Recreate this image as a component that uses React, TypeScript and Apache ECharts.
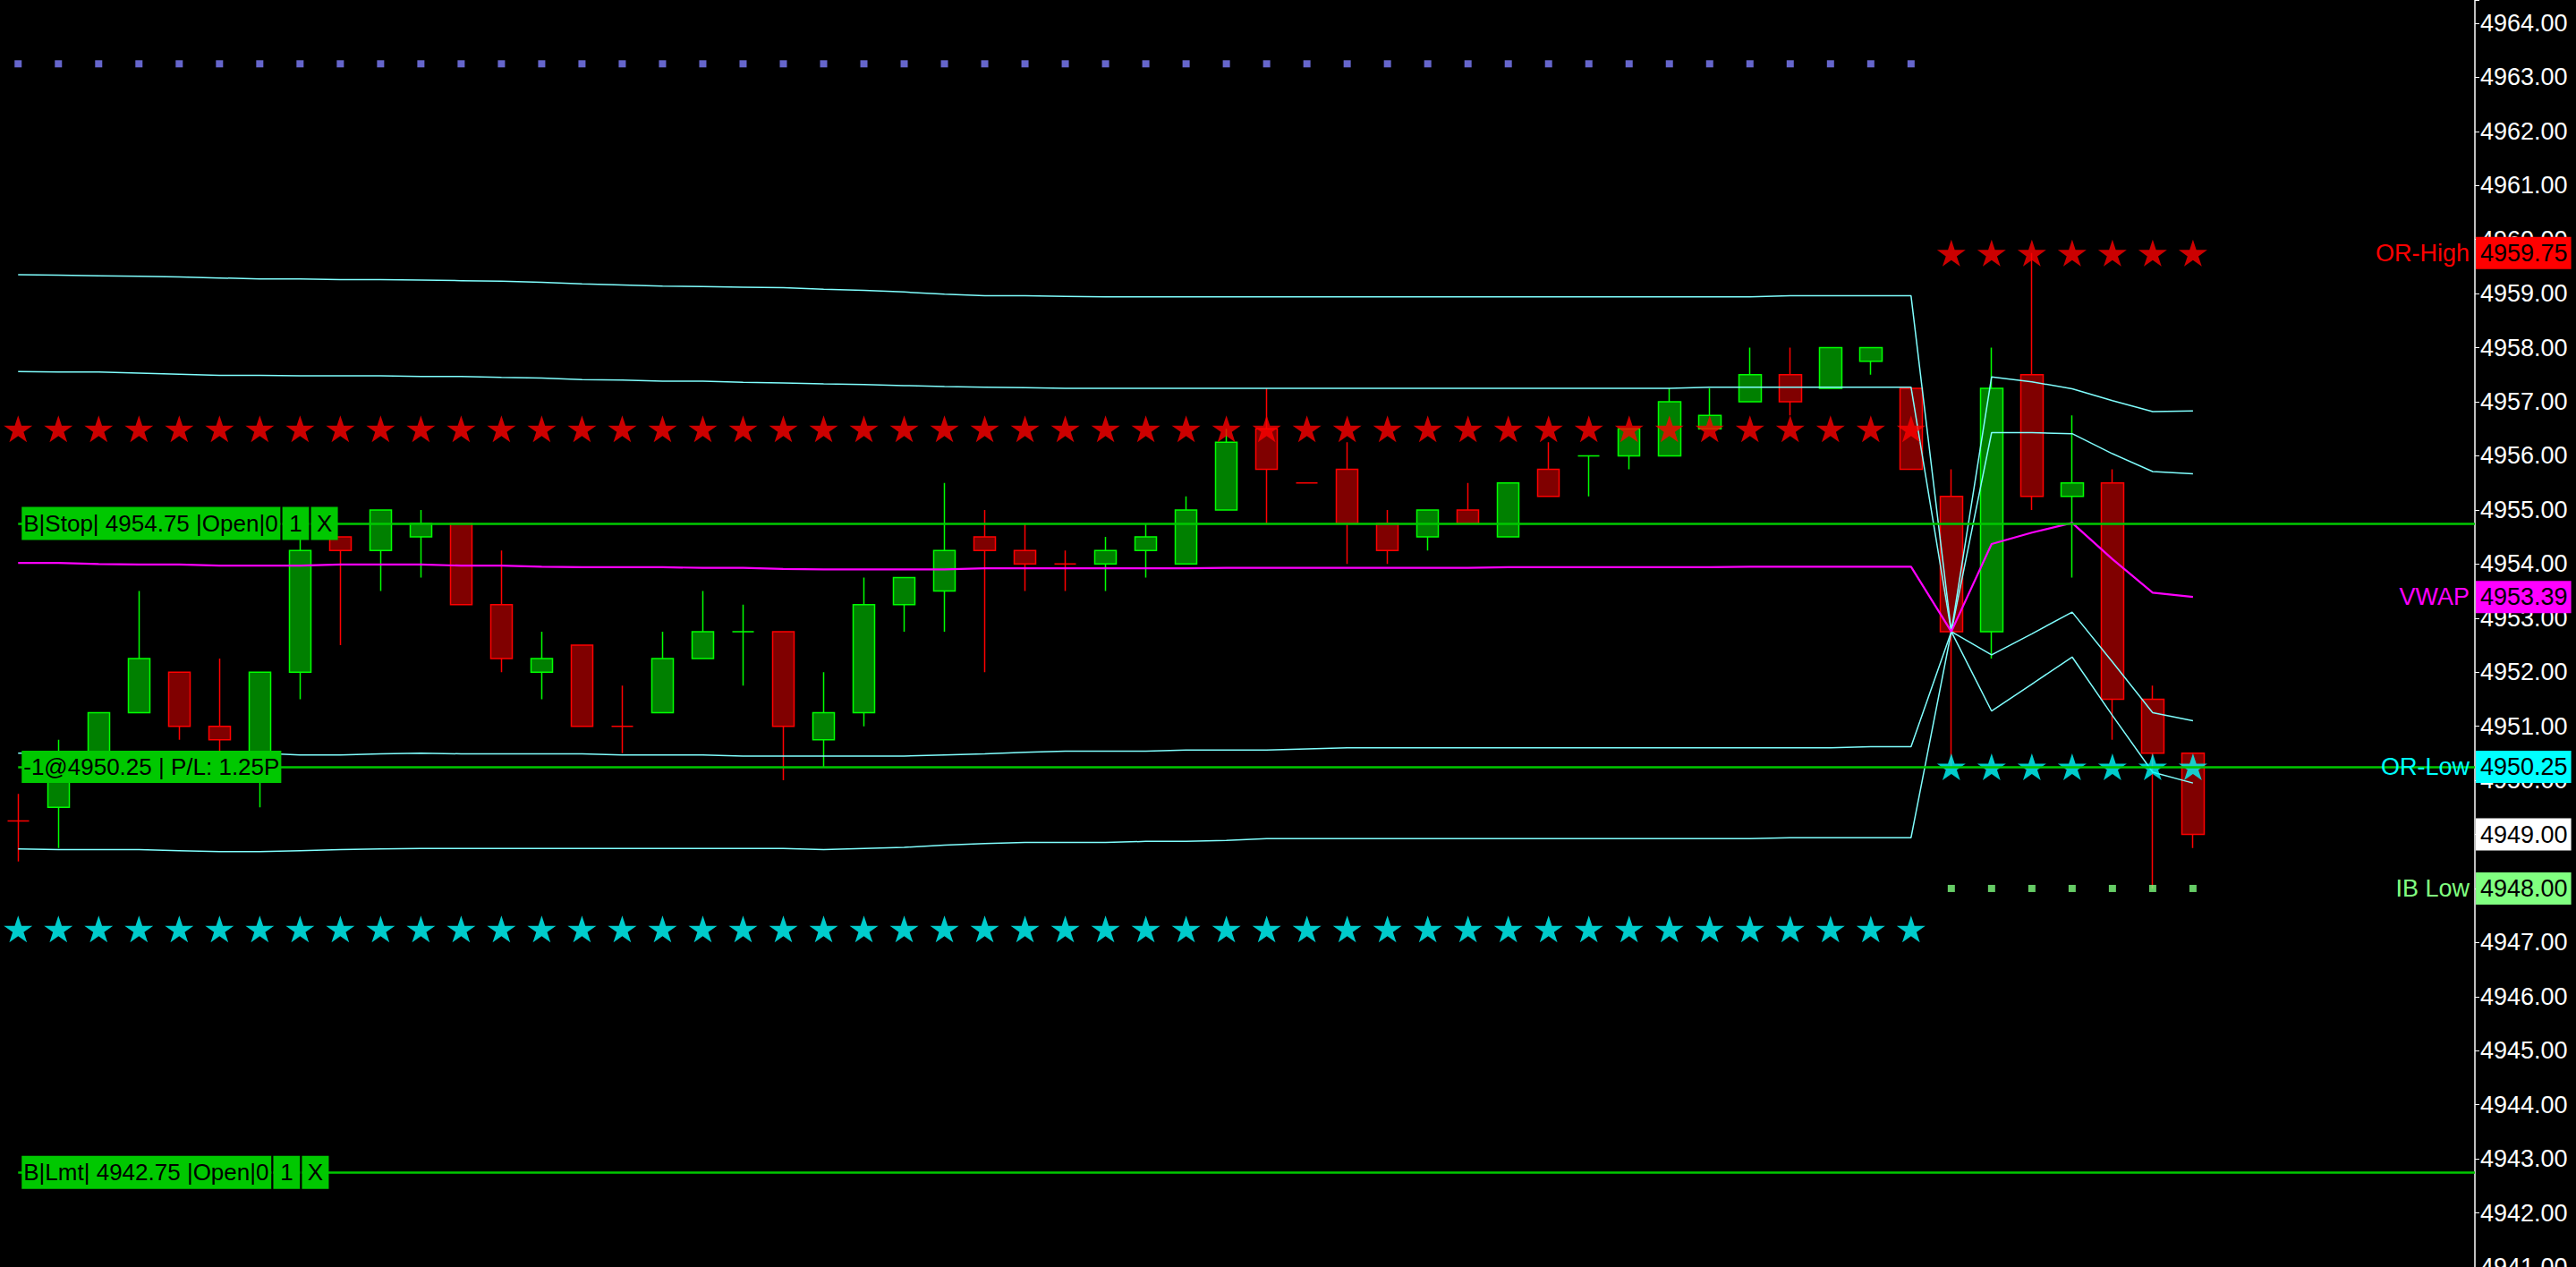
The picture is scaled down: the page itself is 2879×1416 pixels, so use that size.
import * as echarts from "echarts";
import React, { useEffect, useRef } from "react";

// velas: [abertura, fechamento, minima, maxima], uma por barra
const candles: number[][] = [
    [4949.25, 4949.25, 4948.5, 4949.75],
    [4949.5, 4950.5, 4948.75, 4950.75],
    [4950.5, 4951.25, 4950.25, 4951.25],
    [4951.25, 4952.25, 4951.25, 4953.5],
    [4952.0, 4951.0, 4950.75, 4952.0],
    [4951.0, 4950.75, 4950.5, 4952.25],
    [4950.5, 4952.0, 4949.5, 4952.0],
    [4952.0, 4954.25, 4951.5, 4954.5],
    [4954.5, 4954.25, 4952.5, 4954.5],
    [4954.25, 4955.0, 4953.5, 4955.0],
    [4954.5, 4954.75, 4953.75, 4955.0],
    [4954.75, 4953.25, 4953.25, 4954.75],
    [4953.25, 4952.25, 4952.0, 4954.25],
    [4952.0, 4952.25, 4951.5, 4952.75],
    [4952.5, 4951.0, 4951.0, 4952.5],
    [4951.0, 4951.0, 4950.5, 4951.75],
    [4951.25, 4952.25, 4951.25, 4952.75],
    [4952.25, 4952.75, 4952.25, 4953.5],
    [4952.75, 4952.75, 4951.75, 4953.25],
    [4952.75, 4951.0, 4950.0, 4952.75],
    [4950.75, 4951.25, 4950.25, 4952.0],
    [4951.25, 4953.25, 4951.0, 4953.75],
    [4953.25, 4953.75, 4952.75, 4953.75],
    [4953.5, 4954.25, 4952.75, 4955.5],
    [4954.5, 4954.25, 4952.0, 4955.0],
    [4954.25, 4954.0, 4953.5, 4954.75],
    [4954.0, 4954.0, 4953.5, 4954.25],
    [4954.0, 4954.25, 4953.5, 4954.5],
    [4954.25, 4954.5, 4953.75, 4954.75],
    [4954.0, 4955.0, 4954.0, 4955.25],
    [4955.0, 4956.25, 4955.0, 4956.5],
    [4956.5, 4955.75, 4954.75, 4957.25],
    [4955.5, 4955.5, 4955.5, 4955.5],
    [4955.75, 4954.75, 4954.0, 4956.25],
    [4954.75, 4954.25, 4954.0, 4955.0],
    [4954.5, 4955.0, 4954.25, 4955.0],
    [4955.0, 4954.75, 4954.75, 4955.5],
    [4954.5, 4955.5, 4954.5, 4955.5],
    [4955.75, 4955.25, 4955.25, 4956.25],
    [4956.0, 4956.0, 4955.25, 4956.0],
    [4956.0, 4956.5, 4955.75, 4956.5],
    [4956.0, 4957.0, 4956.0, 4957.25],
    [4956.5, 4956.75, 4956.5, 4957.25],
    [4957.0, 4957.5, 4957.0, 4958.0],
    [4957.5, 4957.0, 4956.75, 4958.0],
    [4957.25, 4958.0, 4957.25, 4958.0],
    [4957.75, 4958.0, 4957.5, 4958.0],
    [4957.25, 4955.75, 4955.75, 4957.25],
    [4955.25, 4952.75, 4950.25, 4955.75],
    [4952.75, 4957.25, 4952.25, 4958.0],
    [4957.5, 4955.25, 4955.0, 4959.75],
    [4955.25, 4955.5, 4953.75, 4956.75],
    [4955.5, 4951.5, 4950.75, 4955.75],
    [4951.5, 4950.5, 4948.0, 4951.75],
    [4950.5, 4949.0, 4948.75, 4950.5],
];

// dojis que a plataforma pinta de vermelho
const redDoji = [0, 15, 26, 32];

// VWAP e bandas, um valor por barra
const vwap = [
    4954.02, 4954.02, 4954.0, 4953.99, 4953.99, 4953.97, 4953.97, 4953.97, 4953.99, 4953.99,
    4953.99, 4953.97, 4953.97, 4953.95, 4953.94, 4953.94, 4953.94, 4953.93, 4953.93, 4953.91,
    4953.9, 4953.9, 4953.9, 4953.9, 4953.92, 4953.92, 4953.92, 4953.92, 4953.92, 4953.92,
    4953.93, 4953.93, 4953.93, 4953.93, 4953.93, 4953.93, 4953.93, 4953.94, 4953.94, 4953.94,
    4953.94, 4953.94, 4953.94, 4953.95, 4953.95, 4953.95, 4953.95, 4953.95, 4952.75, 4954.37,
    4954.58, 4954.76, 4954.09, 4953.47, 4953.39,
];

const upper2 = [
    4959.35, 4959.34, 4959.33, 4959.32, 4959.31, 4959.29, 4959.27, 4959.27, 4959.26, 4959.26,
    4959.25, 4959.24, 4959.23, 4959.21, 4959.18, 4959.16, 4959.14, 4959.13, 4959.12, 4959.11,
    4959.08, 4959.06, 4959.03, 4958.99, 4958.96, 4958.96, 4958.95, 4958.94, 4958.94, 4958.94,
    4958.94, 4958.94, 4958.94, 4958.94, 4958.94, 4958.94, 4958.94, 4958.94, 4958.94, 4958.94,
    4958.94, 4958.94, 4958.94, 4958.94, 4958.96, 4958.96, 4958.96, 4958.96, 4952.75, 4957.46,
    4957.37, 4957.24, 4957.02, 4956.82, 4956.83,
];

const upper1 = [
    4957.56, 4957.55, 4957.55, 4957.53, 4957.51, 4957.49, 4957.49, 4957.48, 4957.48, 4957.48,
    4957.47, 4957.47, 4957.45, 4957.44, 4957.41, 4957.4, 4957.38, 4957.38, 4957.36, 4957.35,
    4957.33, 4957.32, 4957.3, 4957.28, 4957.27, 4957.26, 4957.25, 4957.25, 4957.25, 4957.25,
    4957.25, 4957.25, 4957.25, 4957.25, 4957.25, 4957.25, 4957.25, 4957.25, 4957.25, 4957.25,
    4957.25, 4957.25, 4957.27, 4957.27, 4957.27, 4957.27, 4957.27, 4957.27, 4952.75, 4956.43,
    4956.43, 4956.41, 4956.04, 4955.71, 4955.67,
];

const lower1 = [
    4950.5, 4950.5, 4950.5, 4950.5, 4950.5, 4950.5, 4950.5, 4950.47, 4950.47, 4950.49,
    4950.5, 4950.49, 4950.49, 4950.49, 4950.49, 4950.47, 4950.47, 4950.47, 4950.45, 4950.45,
    4950.45, 4950.45, 4950.45, 4950.47, 4950.49, 4950.52, 4950.54, 4950.54, 4950.54, 4950.56,
    4950.56, 4950.56, 4950.58, 4950.6, 4950.6, 4950.6, 4950.6, 4950.6, 4950.6, 4950.6,
    4950.6, 4950.6, 4950.6, 4950.6, 4950.6, 4950.6, 4950.62, 4950.62, 4952.75, 4952.32,
    4952.71, 4953.11, 4952.19, 4951.25, 4951.1,
];

const lower2 = [
    4948.73, 4948.72, 4948.72, 4948.72, 4948.7, 4948.68, 4948.68, 4948.7, 4948.72, 4948.73,
    4948.74, 4948.74, 4948.74, 4948.74, 4948.74, 4948.74, 4948.74, 4948.74, 4948.74, 4948.74,
    4948.72, 4948.74, 4948.76, 4948.8, 4948.83, 4948.85, 4948.85, 4948.85, 4948.87, 4948.87,
    4948.89, 4948.92, 4948.92, 4948.92, 4948.92, 4948.92, 4948.92, 4948.92, 4948.92, 4948.92,
    4948.92, 4948.92, 4948.92, 4948.92, 4948.94, 4948.94, 4948.94, 4948.94, 4952.75, 4951.28,
    4951.78, 4952.28, 4951.2, 4950.15, 4949.95,
];

// sessões: primeira e última barra, níveis OR / IB
const sessionFirstBar = [0, 48];
const sessionLastBar = [47, 54];
const orHighLevels = [4956.5, 4959.75];
const orLowLevels = [4947.25, 4950.25];
const ibHighLevels: (number | null)[] = [4963.25, null];
const ibLowLevels: (number | null)[] = [null, 4948.0];

// ordens e posição
const orderPrices = [4954.75, 4942.75];
const orderTexts = ["B|Stop| 4954.75 |Open|0", "B|Lmt| 4942.75 |Open|0"];
const orderQty = ["1", "1"];
const positionPrice = 4950.25;
const positionText = "-1@4950.25 | P/L: 1.25P";

const yMin = 4941;
const yMax = 4964.43;
const xMin = -0.45;
const xMax = 61;

const FONT = "'Liberation Sans', Arial, sans-serif";
const GREEN = "#00c800";
const STAR = "path://M0,-10L2.245,-3.09L9.511,-3.09L3.633,1.18L5.878,8.09L0,3.82L-5.878,8.09L-3.633,1.18L-9.511,-3.09L-2.245,-3.09Z";

const levelPoints = (levels: (number | null)[]) => {
    const pts: number[][] = [];
    levels.forEach((lv, s) => {
        if (lv == null) return;
        for (let i = sessionFirstBar[s]; i <= sessionLastBar[s]; i++) pts.push([i, lv]);
    });
    return pts;
};

const App: React.FC = () => {
    const chartRef = useRef<HTMLDivElement>(null);

    useEffect(() => {
        if (!chartRef.current) return;
        const chart = echarts.init(chartRef.current, null, { renderer: "svg" });

        const candleData = candles.map(([o, c, l, h], i) => {
            const item: any = { value: [i, o, c, l, h] };
            if (o === c) {
                const col = redDoji.includes(i) ? "#ff0000" : "#00ff00";
                item.itemStyle = { borderColor: col, borderColor0: col, borderColorDoji: col };
            }
            return item;
        });

        const bandLine = (data: number[], color: string, width: number) => ({
            type: "line",
            data: data.map((v, i) => [i, v]),
            symbol: "none",
            showSymbol: false,
            silent: true,
            lineStyle: { color, width },
            z: 3,
        });

        const lastClose = candles[candles.length - 1][1];
        const tags = [
            { name: "OR-High", value: orHighLevels[1], color: "#ff0000" },
            { name: "VWAP", value: vwap[vwap.length - 1], color: "#ff00ff" },
            { name: "OR-Low", value: orLowLevels[1], color: "#00ffff" },
            { name: "", value: lastClose, color: "#ffffff" },
            { name: "IB Low", value: ibLowLevels[1] as number, color: "#80ff80" },
        ];

        const cellStyle = {
            backgroundColor: GREEN,
            color: "#000",
            fontSize: 26,
            fontFamily: FONT,
            height: 37,
            lineHeight: 37,
        };
        const rich = {
            cell: { ...cellStyle, padding: [0, 3, 0, 2] },
            gap: { width: 2, height: 37, lineHeight: 37, backgroundColor: "#000", fontSize: 26 },
            box: { ...cellStyle, width: 30, align: "center" },
        };

        const hidden = { color: "rgba(0,0,0,0)", width: 0, opacity: 1 };

        const markData: any[] = [];
        orderPrices.forEach((p, k) => {
            markData.push([
                {
                    coord: [0, p],
                    lineStyle: { color: GREEN, width: 2.5, type: "solid", opacity: 1 },
                    label: {
                        show: true,
                        position: "insideStart",
                        distance: 4,
                        formatter: () => `{cell|${orderTexts[k]}}{gap| }{box|${orderQty[k]}}{gap| }{box|X}`,
                        rich,
                    },
                },
                { coord: [xMax, p] },
            ]);
        });
        markData.push([
            {
                coord: [0, positionPrice],
                lineStyle: { color: GREEN, width: 2.5, type: "solid", opacity: 1 },
                label: {
                    show: true,
                    position: "insideStart",
                    distance: 4,
                    formatter: () => positionText,
                    backgroundColor: GREEN,
                    color: "#000",
                    fontSize: 26,
                    fontFamily: FONT,
                    padding: [5, 2, 5, 2],
                },
            },
            { coord: [xMax, positionPrice] },
        ]);
        tags.forEach((t) => {
            if (t.name) {
                markData.push({
                    yAxis: t.value,
                    lineStyle: hidden,
                    label: {
                        show: true,
                        opacity: 1,
                        position: "insideEnd",
                        distance: 6,
                        formatter: () => t.name,
                        color: t.color,
                        fontSize: 27,
                        fontFamily: FONT,
                    },
                });
            }
            markData.push({
                yAxis: t.value,
                lineStyle: hidden,
                label: {
                    show: true,
                    opacity: 1,
                    position: "end",
                    distance: 1,
                    formatter: () => t.value.toFixed(2),
                    backgroundColor: t.color,
                    color: "#000",
                    fontSize: 27,
                    fontFamily: FONT,
                    padding: [5, 4, 4, 5],
                },
            });
        });

        chart.setOption({
            animation: false,
            backgroundColor: "#000",
            grid: { left: 0, right: 113, top: 0, bottom: 0, containLabel: false, outerBoundsMode: "none" },
            xAxis: { type: "value", min: xMin, max: xMax, show: false, splitLine: { show: false } },
            yAxis: {
                type: "value",
                position: "right",
                min: yMin,
                max: yMax,
                interval: 1,
                scale: true,
                axisLine: { show: true, onZero: false, lineStyle: { color: "#ffffff", width: 1.5 } },
                axisTick: { show: true, length: 5, lineStyle: { color: "#ffffff" } },
                splitLine: { show: false },
                axisLabel: {
                    color: "#ffffff",
                    fontSize: 27,
                    fontFamily: FONT,
                    margin: 6,
                    showMinLabel: true,
                    formatter: (v: number) => (Number.isInteger(v) ? v.toFixed(2) : ""),
                },
            },
            series: [
                {
                    type: "candlestick",
                    data: candleData,
                    encode: { x: 0, y: [1, 2, 3, 4] },
                    barWidth: 25,
                    silent: true,
                    itemStyle: {
                        color: "#008000",
                        color0: "#800000",
                        borderColor: "#00ff00",
                        borderColor0: "#ff0000",
                        borderWidth: 1.5,
                    },
                    z: 2,
                },
                bandLine(upper2, "#80ffff", 1.5),
                bandLine(upper1, "#80ffff", 1.5),
                bandLine(lower1, "#80ffff", 1.5),
                bandLine(lower2, "#80ffff", 1.5),
                bandLine(vwap, "#ff00ff", 2.2),
                {
                    type: "scatter",
                    data: levelPoints(orHighLevels),
                    symbol: STAR,
                    symbolSize: [32, 30],
                    itemStyle: { color: "#ff0000" },
                    silent: true,
                    z: 4,
                },
                {
                    type: "scatter",
                    data: levelPoints(orLowLevels),
                    symbol: STAR,
                    symbolSize: [32, 30],
                    itemStyle: { color: "#00ffff" },
                    silent: true,
                    z: 4,
                },
                {
                    type: "scatter",
                    data: levelPoints(ibHighLevels),
                    symbol: "rect",
                    symbolSize: 8,
                    itemStyle: { color: "#8080ff" },
                    silent: true,
                    z: 4,
                },
                {
                    type: "scatter",
                    data: levelPoints(ibLowLevels),
                    symbol: "rect",
                    symbolSize: 8,
                    itemStyle: { color: "#80ff80" },
                    silent: true,
                    z: 4,
                },
                {
                    type: "line",
                    data: [[candles.length - 1, lastClose]],
                    symbol: "none",
                    showSymbol: false,
                    lineStyle: { opacity: 0 },
                    silent: true,
                    clip: false,
                    z: 6,
                    markLine: {
                        silent: true,
                        symbol: ["none", "none"],
                        animation: false,
                        data: markData,
                    },
                },
            ],
        });

        const handleResize = () => chart.resize();
        window.addEventListener("resize", handleResize);
        return () => { window.removeEventListener("resize", handleResize); chart.dispose(); };
    }, []);

    return (
        <div
            ref={chartRef}
            style={{ position: "fixed", left: 0, top: 0, width: "100vw", height: "100vh", background: "#000" }}
        />
    );
};

export default App;
